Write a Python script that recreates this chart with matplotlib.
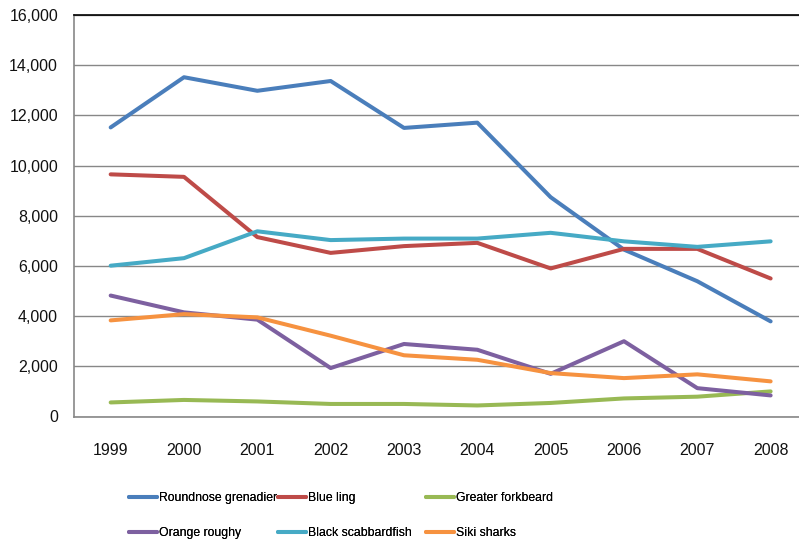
import matplotlib
matplotlib.use("Agg")
import matplotlib.pyplot as plt
from matplotlib.lines import Line2D
from matplotlib.ticker import FuncFormatter

plt.rcParams['font.family'] = ['Liberation Sans', 'DejaVu Sans']

years = ["1999", "2000", "2001", "2002", "2003", "2004", "2005", "2006", "2007", "2008"]

roundnose_grenadier = [11520, 13520, 12980, 13370, 11500, 11710, 8740, 6650, 5390, 3790]
blue_ling = [9650, 9550, 7150, 6520, 6790, 6920, 5900, 6680, 6680, 5500]
greater_forkbeard = [560, 660, 600, 500, 500, 440, 540, 720, 790, 1000]
orange_roughy = [4820, 4150, 3860, 1930, 2890, 2660, 1700, 3000, 1130, 840]
black_scabbardfish = [6010, 6310, 7380, 7030, 7090, 7090, 7320, 6980, 6760, 6980]
siki_sharks = [3830, 4080, 3950, 3220, 2440, 2260, 1730, 1530, 1680, 1400]

series = [
    ("Roundnose grenadier", roundnose_grenadier, "#4A7EBB"),
    ("Blue ling", blue_ling, "#BE4B48"),
    ("Greater forkbeard", greater_forkbeard, "#98B954"),
    ("Orange roughy", orange_roughy, "#7D60A0"),
    ("Black scabbardfish", black_scabbardfish, "#46AAC5"),
    ("Siki sharks", siki_sharks, "#F69240"),
]

W, H = 799, 543
fig = plt.figure(figsize=(W / 100, H / 100), dpi=100)

# plot area: the category axis runs slightly past the right edge of the canvas
left_px, right_px, top_px, bottom_px = 74, 807.3, 15, 416.5
ax = fig.add_axes([left_px / W, 1 - bottom_px / H,
                   (right_px - left_px) / W, (bottom_px - top_px) / H])

x = list(range(len(years)))
handles = {}
for name, vals, color in series:
    ax.plot(x, vals, color=color, lw=2.9, solid_capstyle="round",
            solid_joinstyle="round", zorder=3)
    handles[name] = Line2D([], [], color=color, lw=2.9, solid_capstyle="round")

ax.set_xlim(-0.5, len(years) - 0.5)
ax.set_ylim(0, 16000)
ax.set_yticks(range(0, 16001, 2000))
ax.yaxis.set_major_formatter(FuncFormatter(lambda v, p: f"{int(v):,}"))
ax.set_xticks(x)
ax.set_xticklabels(years)

ax.grid(axis="y", color="#878787", lw=1.0, zorder=1)
ax.set_axisbelow(True)
ax.spines["right"].set_visible(False)
ax.spines["left"].set_color("#878787")
ax.spines["left"].set_linewidth(1.2)
ax.spines["bottom"].set_color("#878787")
ax.spines["bottom"].set_linewidth(1.2)
ax.spines["top"].set_color("black")
ax.spines["top"].set_linewidth(1.2)

ax.tick_params(axis="y", length=0, pad=11.5, labelsize=11.5, labelcolor="#111111")
ax.tick_params(axis="x", length=0, pad=19, labelsize=11.5, labelcolor="#111111")

# legend laid out in three columns, two rows
columns = [
    (129, ["Roundnose grenadier", "Orange roughy"]),
    (278, ["Blue ling", "Black scabbardfish"]),
    (426, ["Greater forkbeard", "Siki sharks"]),
]
for xpx, names in columns:
    leg = fig.legend([handles[n] for n in names], names,
                     loc="upper left", bbox_to_anchor=(xpx / W, 1 - 492 / H),
                     frameon=False, fontsize=8.8, handlelength=2.3,
                     handletextpad=0.12, labelspacing=1.9, borderpad=0,
                     borderaxespad=0)
    fig.add_artist(leg)

fig.savefig("out.png", dpi=100, facecolor="white")
